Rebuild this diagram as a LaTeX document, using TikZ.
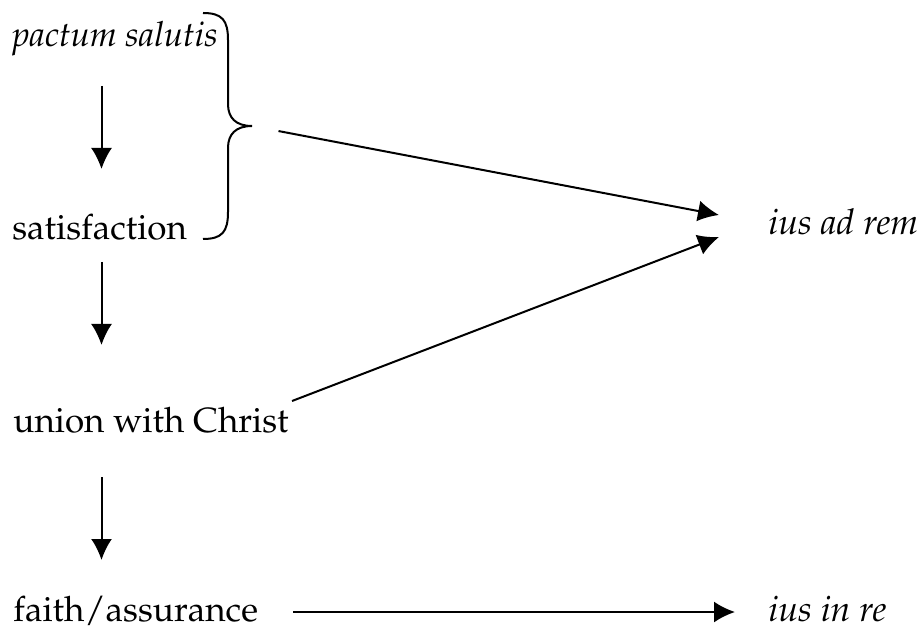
\documentclass[tikz,border=0pt]{standalone}
\usepackage[T1]{fontenc}
\usepackage{mathpazo}
\usetikzlibrary{arrows.meta}
\tikzset{
  term/.style={anchor=base west, inner sep=0pt, font=\fontsize{17.5}{21}\selectfont},
  latin/.style={term, font=\fontsize{17.8}{21}\selectfont\itshape},
  small latin/.style={term, font=\fontsize{17.3}{21}\selectfont\itshape},
  arr/.style={-{Latex[length=10.5pt,width=10.5pt]}, line width=1pt},
}
\begin{document}
\begin{tikzpicture}[x=0.5pt,y=-0.5pt]
    \useasboundingbox (0,0) rectangle (920,630);

    % left column
    \node[small latin] (pactum) at (12,47) {pactum salutis};
    \node[term] (satis) at (12,240) {satisfaction};
    \node[term] (union) at (13,432) {union with Christ};
    \node[term] (faith) at (13,621) {faith/assurance};

    % right column
    \node[latin] (adrem) at (768,235) {ius ad rem};
    \node[latin] (inre) at (768,621) {ius in re};

    \coordinate (stem) at (101.5,0);
    \draw[arr] ([yshift=-19.5pt]stem |- pactum.base) -- ([yshift=35.5pt]stem |- satis.base);
    \draw[arr] ([yshift=-11pt]stem |- satis.base) -- ([yshift=43.5pt]stem |- union.base);
    \draw[arr] ([yshift=-22.5pt]stem |- union.base) -- ([yshift=30.5pt]stem |- faith.base);

    % brace
    \draw[line width=1pt] (203,13) .. controls (222,13) and (228,20) .. (228,40)
        -- (228,104) .. controls (228,118) and (236,126) .. (252,126)
        .. controls (236,126) and (228,134) .. (228,148)
        -- (228,212) .. controls (228,232) and (222,239) .. (203,239);
    \coordinate (tip) at (252,126);

    \draw[arr, shorten <=13.5pt] (tip) -- ([shift={(-24.5pt,10pt)}]adrem.base west);
    \draw[arr] ([shift={(1.5pt,15.5pt)}]union.base east) -- ([shift={(-24.5pt,-1pt)}]adrem.base west);
    \draw[arr] ([shift={(17.5pt,4.5pt)}]faith.base east) -- ([shift={(-16.5pt,4.5pt)}]inre.base west);
\end{tikzpicture}
\end{document}
